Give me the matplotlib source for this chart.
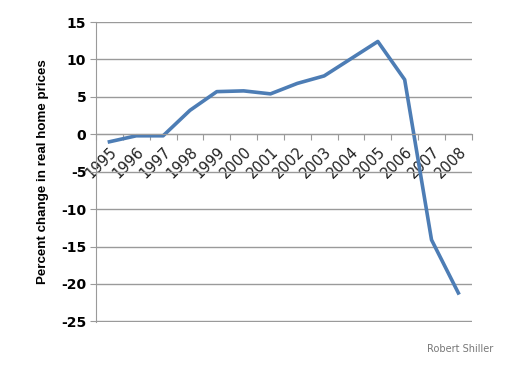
import numpy as np
import matplotlib.pyplot as plt

# Real home price change by year
years = ['1995', '1996', '1997', '1998', '1999', '2000', '2001',
         '2002', '2003', '2004', '2005', '2006', '2007', '2008']
pct_change = [-1.0, -0.2, -0.2, 3.2, 5.7, 5.8, 5.4,
              6.8, 7.8, 10.1, 12.4, 7.3, -14.1, -21.2]
y_ticks = [-25, -20, -15, -10, -5, 0, 5, 10, 15]

grey = '#9a9a9a'

fig = plt.figure(figsize=(5.19, 3.67), dpi=100)
ax = fig.add_axes([0.185, 0.1226, 0.724, 0.8174])

x = np.arange(len(years))
ax.plot(x, pct_change, color='#4d7db5', lw=2.6, solid_joinstyle='round')

ax.set_xlim(-0.5, len(years) - 0.5)
ax.set_ylim(-25.08, 15)

# horizontal gridlines
ax.set_yticks(y_ticks)
ax.set_yticklabels([str(v) for v in y_ticks], fontsize=10, fontweight='bold',
                   family='DejaVu Sans')
ax.yaxis.grid(True, color=grey, lw=1)
ax.set_axisbelow(True)
ax.tick_params(axis='y', length=4, color=grey, pad=3)

# category axis sits on y = 0
for s in ['top', 'right']:
    ax.spines[s].set_visible(False)
ax.spines['left'].set_color(grey)
ax.spines['bottom'].set_color(grey)
ax.spines['bottom'].set_position(('data', 0))

ax.set_xticks(np.arange(-0.5, len(years), 1))
ax.set_xticklabels([])
ax.tick_params(axis='x', which='major', length=4, color=grey, direction='out')
ax.set_xticks(x, minor=True)
ax.set_xticklabels(years, minor=True, rotation=45, ha='right',
                   rotation_mode='anchor', fontsize=10.5, color='#222222')
ax.tick_params(axis='x', which='minor', length=0, pad=7)

ax.set_ylabel('Percent change in real home prices', fontsize=9.6, fontweight='bold',
              family='Liberation Sans', labelpad=9)

fig.text(0.823, 0.04, 'Robert Shiller', fontsize=7, color='#777777')

fig.savefig('out.png', dpi=100)
